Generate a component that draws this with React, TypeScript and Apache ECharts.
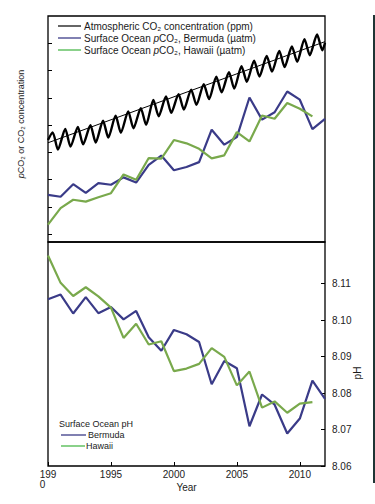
import React, { useEffect, useRef } from "react";
import * as echarts from "echarts";

// ---- Data ----
const years = [1990, 1991, 1992, 1993, 1994, 1995, 1996, 1997, 1998, 1999, 2000, 2001, 2002, 2003, 2004, 2005, 2006, 2007, 2008, 2009, 2010, 2011, 2012];

// Atmospheric CO2 (ppm): seasonal maxima (spring) and minima (autumn) per year 1990-2011
const co2Peaks = [357.3, 358.6, 359.3, 359.9, 361.6, 363.4, 365.0, 366.2, 369.2, 370.5, 371.3, 373.0, 375.0, 377.7, 379.4, 381.6, 383.6, 385.3, 387.2, 388.8, 391.5, 393.2];
const co2Troughs = [351.0, 352.1, 352.9, 353.6, 355.4, 357.2, 358.8, 360.1, 363.2, 364.5, 365.7, 367.4, 369.5, 372.0, 373.4, 375.9, 377.8, 379.6, 381.3, 383.2, 385.6, 387.4];
const co2Start = 354.5; // Jan 1990
const co2End = 390.2; // Jan 2012
const co2TrendYears = [1990, 2012];
const co2Trend = [353.5, 390.6];

// Surface ocean pCO2 (µatm)
const bermudaPco2 = [334.4, 333.7, 338.3, 335.1, 338.7, 338.1, 340.8, 338.9, 345.4, 348.8, 343.4, 344.6, 346.4, 358.3, 352.8, 355.6, 370.1, 362.0, 364.7, 372.3, 369.3, 358.5, 362.3];
const hawaiiPco2 = [323.5, 329.5, 332.6, 331.9, 333.5, 335.0, 341.9, 339.9, 347.9, 347.7, 354.5, 353.3, 351.3, 347.8, 348.9, 357.4, 354.0, 363.5, 362.3, 368.1, 366.0, 363.2];

// Surface ocean pH
const bermudaPh = [8.1057, 8.1070, 8.1018, 8.1063, 8.1019, 8.1036, 8.1002, 8.1025, 8.0953, 8.0916, 8.0973, 8.0961, 8.0940, 8.0824, 8.0888, 8.0868, 8.0709, 8.0796, 8.0768, 8.0689, 8.0730, 8.0834, 8.0784];
const hawaiiPh = [8.1177, 8.1102, 8.1066, 8.1090, 8.1065, 8.1034, 8.0951, 8.0990, 8.0933, 8.0942, 8.0860, 8.0867, 8.0880, 8.0923, 8.0899, 8.0821, 8.0859, 8.0760, 8.0777, 8.0746, 8.0771, 8.0775];

const yearTicks = [1990, 1995, 2000, 2005, 2010];
const phTicks = [8.06, 8.07, 8.08, 8.09, 8.1, 8.11];
const co2Ticks = [320, 330, 340, 350, 360, 370, 380, 390];

const BLUE = "#3a3b88";
const GREEN = "#79a94c";
const LEG_BLUE = "#2c2c7e";
const LEG_GREEN = "#3db33d";
const FONT = "Liberation Sans, Arial, sans-serif";

export default function App() {
  const ref = useRef<HTMLDivElement>(null);

  useEffect(() => {
    if (!ref.current) return;
    const chart = echarts.init(ref.current, null, { renderer: "svg" });

    const co2Series: number[][] = [[years[0], co2Start]];
    for (let i = 0; i < co2Peaks.length; i++) {
      co2Series.push([years[i] + 0.37, co2Peaks[i]]);
      co2Series.push([years[i] + 0.79, co2Troughs[i]]);
    }
    co2Series.push([years[years.length - 1], co2End]);

    const pair = (vals: number[]) => vals.map((v, i) => [years[i], v]);

    const legendText = (y: number, text: string) => ({
      type: "text",
      x: 84,
      y,
      style: {
        text,
        font: `10px ${FONT}`,
        fill: "#1a1a1a",
        verticalAlign: "middle",
        rich: { i: { fontStyle: "italic", fontSize: 10, fontFamily: FONT, fill: "#1a1a1a" } },
      },
    });
    const legendLine = (x1: number, x2: number, y: number, color: string) => ({
      type: "line",
      shape: { x1, y1: y, x2, y2: y },
      style: { stroke: color, lineWidth: 1.2 },
    });

    chart.setOption({
      animation: false,
      textStyle: { fontFamily: FONT },
      grid: [
        { left: 48, top: 16, width: 277, height: 226, show: true, borderColor: "#000", borderWidth: 1.3, backgroundColor: "transparent" },
        { left: 48, top: 242, width: 277, height: 224, show: true, borderColor: "#000", borderWidth: 1.3, backgroundColor: "transparent" },
      ],
      xAxis: [
        { gridIndex: 0, type: "value", min: 1990, max: 2012, show: false, splitLine: { show: false } },
        {
          gridIndex: 1,
          type: "value",
          min: 1990,
          max: 2012,
          interval: 5,
          splitLine: { show: false },
          axisLine: { show: false },
          axisTick: { show: true, inside: true, length: 4, customValues: yearTicks, lineStyle: { color: "#000", width: 1 } },
          axisLabel: {
            customValues: yearTicks,
            margin: 3,
            fontSize: 10,
            color: "#222",
            lineHeight: 10,
            formatter: (v: number) => (Math.round(v) === 1990 ? "199\n0    " : yearTicks.indexOf(Math.round(v)) >= 0 ? String(Math.round(v)) : ""),
          },
          name: "Year",
          nameLocation: "middle",
          nameGap: 16,
          nameMoveOverlap: false,
          nameTextStyle: { fontSize: 10, color: "#222" },
        },
      ],
      yAxis: [
        {
          gridIndex: 0,
          type: "value",
          min: 317.1,
          max: 400,
          splitLine: { show: false },
          axisLine: { show: false },
          axisTick: { show: true, inside: true, length: 4, customValues: co2Ticks, lineStyle: { color: "#000", width: 1 } },
          axisLabel: { show: false },
        },
        {
          gridIndex: 1,
          type: "value",
          position: "right",
          min: 8.06,
          max: 8.1214,
          interval: 0.01,
          splitLine: { show: false },
          axisLine: { show: false },
          axisTick: { show: true, inside: true, length: 4, customValues: phTicks, lineStyle: { color: "#000", width: 1 } },
          axisLabel: {
            customValues: phTicks,
            margin: 7,
            fontSize: 10,
            color: "#222",
            formatter: (v: number) => (v > 8.115 ? "" : v.toFixed(2)),
          },
        },
      ],
      series: [
        {
          name: "Atmospheric CO2",
          type: "line",
          xAxisIndex: 0,
          yAxisIndex: 0,
          data: co2Series,
          showSymbol: false,
          smooth: 0.25,
          lineStyle: { color: "#000", width: 2.4 },
          z: 3,
        },
        {
          name: "CO2 trend",
          type: "line",
          xAxisIndex: 0,
          yAxisIndex: 0,
          data: co2TrendYears.map((y, i) => [y, co2Trend[i]]),
          showSymbol: false,
          lineStyle: { color: "#000", width: 1 },
          z: 4,
        },
        {
          name: "Bermuda pCO2",
          type: "line",
          xAxisIndex: 0,
          yAxisIndex: 0,
          data: pair(bermudaPco2),
          showSymbol: false,
          lineStyle: { color: BLUE, width: 2.2 },
        },
        {
          name: "Hawaii pCO2",
          type: "line",
          xAxisIndex: 0,
          yAxisIndex: 0,
          data: pair(hawaiiPco2),
          showSymbol: false,
          lineStyle: { color: GREEN, width: 2.2 },
        },
        {
          name: "Bermuda pH",
          type: "line",
          xAxisIndex: 1,
          yAxisIndex: 1,
          data: pair(bermudaPh),
          showSymbol: false,
          lineStyle: { color: BLUE, width: 2.2 },
        },
        {
          name: "Hawaii pH",
          type: "line",
          xAxisIndex: 1,
          yAxisIndex: 1,
          data: pair(hawaiiPh),
          showSymbol: false,
          lineStyle: { color: GREEN, width: 2.2 },
        },
      ],
      graphic: [
        legendLine(58, 81, 26, "#000"),
        legendText(26, "Atmospheric CO₂ concentration (ppm)"),
        legendLine(58, 81, 38, LEG_BLUE),
        legendText(38, "Surface Ocean {i|p}CO₂, Bermuda (µatm)"),
        legendLine(58, 81, 50, LEG_GREEN),
        legendText(50, "Surface Ocean {i|p}CO₂, Hawaii (µatm)"),
        {
          type: "text",
          x: 59,
          y: 424,
          style: { text: "Surface Ocean pH", font: `9px ${FONT}`, fill: "#1a1a1a", verticalAlign: "middle" },
        },
        legendLine(61, 86, 435, LEG_BLUE),
        { type: "text", x: 88, y: 435, style: { text: "Bermuda", font: `9px ${FONT}`, fill: "#1a1a1a", verticalAlign: "middle" } },
        legendLine(61, 85, 446, LEG_GREEN),
        { type: "text", x: 86, y: 446, style: { text: "Hawaii", font: `9px ${FONT}`, fill: "#1a1a1a", verticalAlign: "middle" } },
        {
          type: "text",
          x: 21,
          y: 124,
          rotation: Math.PI / 2,
          style: {
            text: "{i|p}CO₂ or CO₂ concentration",
            font: `9px ${FONT}`,
            fill: "#1a1a1a",
            align: "center",
            verticalAlign: "middle",
            rich: { i: { fontStyle: "italic", fontSize: 9, fontFamily: FONT, fill: "#1a1a1a" } },
          },
        },
        {
          type: "text",
          x: 357,
          y: 373,
          rotation: Math.PI / 2,
          style: { text: "pH", font: `10px ${FONT}`, fill: "#1a1a1a", align: "center", verticalAlign: "middle" },
        },
        {
          type: "line",
          shape: { x1: 374, y1: 15, x2: 374, y2: 483 },
          style: { stroke: "#1f3535", lineWidth: 2 },
        },
      ],
    });

    return () => chart.dispose();
  }, []);

  return <div ref={ref} style={{ width: 375, height: 504, position: "absolute", left: 0, top: 0 }} />;
}
